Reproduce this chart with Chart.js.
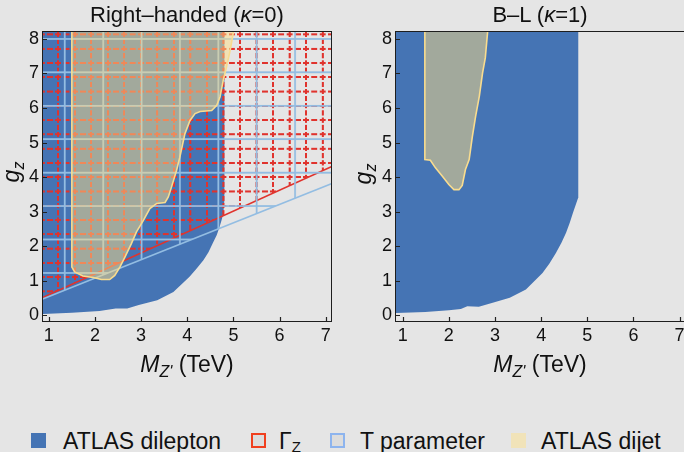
<!DOCTYPE html>
<html lang="en">
<head>
<meta charset="UTF-8">
<title>Z' limits: Right-handed vs B-L</title>
<script src="https://cdn.jsdelivr.net/npm/chart.js"></script>
<style>
  body {
    margin: 0;
    width: 684px;
    height: 452px;
    position: relative;
    overflow: hidden;
    background: #e5e5e5;
    color: #111;
    font-family: "Liberation Sans", Arial, sans-serif;
  }
  canvas { position: absolute; top: 0; }
  #rh { left: 0; }
  #bl { left: 342px; }

  .title, .xlab, .ylab, .lt {
    position: absolute;
    white-space: nowrap;
    line-height: 26px;
  }
  .title { top: 2px; width: 300px; text-align: center; font-size: 22px; }
  .xlab { top: 351px; width: 200px; text-align: center; font-size: 23px; }
  .xlab sub { font-size: 16px; vertical-align: -5px; font-style: italic; }
  .ylab { width: 40px; height: 26px; text-align: center; font-size: 23px; transform: rotate(-90deg); }
  .ylab sub { font-size: 16px; vertical-align: -5px; font-style: italic; }

  /* --- LEGEND --- */
  .lt { top: 428px; font-size: 23px; }
  .lt sub { font-size: 15px; vertical-align: -3px; line-height: 0; }
  .sw { position: absolute; top: 433px; width: 15px; height: 15px; box-sizing: border-box; }
</style>
</head>
<body>

<canvas id="rh" width="342" height="390"></canvas>
<canvas id="bl" width="360" height="390"></canvas>

<div class="title" style="left:37px">Right–handed (<i>κ</i>=0)</div>
<div class="title" style="left:390px">B–L (<i>κ</i>=1)</div>

<div class="xlab" style="left:87px"><i>M</i><sub>Z'</sub> (TeV)</div>
<div class="xlab" style="left:440px"><i>M</i><sub>Z'</sub> (TeV)</div>
<div class="ylab" style="left:-9px; top:159px"><i>g</i><sub>z</sub></div>
<div class="ylab" style="left:343px; top:161px"><i>g</i><sub>z</sub></div>

<div class="sw" style="left:31px; background:#4574b4"></div>
<div class="lt" style="left:63px">ATLAS dilepton</div>
<div class="sw" style="left:251px; border:2px solid #f0401f; background:#dcdcdc"></div>
<div class="lt" style="left:279px">Γ<sub>Z</sub></div>
<div class="sw" style="left:330px; border:2px solid #8db4ee; background:#dcdcdc"></div>
<div class="lt" style="left:360px">T parameter</div>
<div class="sw" style="left:511px; background:#f1e3b9"></div>
<div class="lt" style="left:541px">ATLAS dijet</div>

<script>
// ---- values (M in TeV, g_z) ----

// Right-handed panel
const rhDilepM = [0.85, 1.5, 2.1, 2.45, 2.7, 2.95, 3.35, 3.7, 4.05, 4.2, 4.35, 4.46, 4.55, 4.64, 4.7, 4.75, 4.78, 4.81, 4.81];
const rhDilepG = [0.04, 0.08, 0.13, 0.2, 0.2, 0.3, 0.44, 0.68, 1.12, 1.35, 1.6, 1.83, 2.08, 2.33, 2.56, 2.78, 2.95, 3.35, 8.2];

const rhDijetM = [1.5, 1.5, 1.56, 1.74, 1.96, 2.14, 2.32, 2.43, 2.54, 2.65, 2.79, 2.9, 3.05, 3.19, 3.34,
                  3.52, 3.59, 3.66, 3.77, 3.84, 3.95, 4.06, 4.17, 4.28, 4.53, 4.64, 4.71, 4.78, 4.85, 4.93, 5.0];
const rhDijetG = [8.2, 1.4, 1.26, 1.14, 1.1, 1.04, 1.04, 1.16, 1.4, 1.69, 2.08, 2.42, 2.75, 3.09, 3.24,
                  3.27, 3.43, 3.72, 4.2, 4.58, 5.26, 5.64, 5.84, 5.9, 5.93, 6.08, 6.32, 6.8, 7.18, 7.67, 8.2];

const widthM = [0.8, 7.2];     // Gamma_Z bound
const widthG = [0.48, 4.35];
const tparM = [0.8, 7.2];      // T parameter bound
const tparG = [0.44, 3.85];

// B-L panel
const blDilepM = [0.85, 1.49, 2.0, 2.26, 2.4, 2.65, 2.95, 3.32, 3.67, 4.03, 4.18, 4.32, 4.44, 4.54, 4.62, 4.69, 4.75, 4.8, 4.81, 4.81];
const blDilepG = [0.07, 0.1, 0.15, 0.19, 0.27, 0.25, 0.37, 0.51, 0.75, 1.23, 1.5, 1.81, 2.1, 2.39, 2.68, 2.97, 3.2, 3.4, 3.5, 8.2];

const blDijetM = [1.48, 1.48, 1.6, 1.71, 1.86, 2.0, 2.11, 2.22, 2.29, 2.36, 2.44, 2.51, 2.58, 2.66, 2.73, 2.79, 2.84];
const blDijetG = [8.2, 4.51, 4.49, 4.27, 4.03, 3.79, 3.64, 3.64, 3.76, 4.22, 4.51, 5.18, 5.76, 6.34, 7.01, 7.45, 8.2];

const yRange = [-0.16, 8.2];

// ---- styles ----
const BLUE = '#4574b4';
const RED = '#e0332d';
const LIGHTBLUE = '#93bde2';
const DIJET_FILL = 'rgba(255, 221, 132, 0.5)';
const DIJET_LINE = '#f8dc8f';
const FONT = { family: '"Liberation Sans", Arial, sans-serif', size: 18 };

// mesh hatching, anchored and spaced in data units
const gammaMesh = { x0: 5.143, dx: 0.358, y0: 4.0, dy: 0.413, color: RED, width: 2, dash: [0.36, 0.14] };
const tMesh = { x0: 1.347, dx: 0.8315, y0: 8.0, dy: 0.967, color: LIGHTBLUE, width: 1.8 };

const pts = (xs, ys) => xs.map((x, i) => ({ x, y: ys[i] }));

function meshPattern(chart, m) {
  const xs = chart.scales.x, ys = chart.scales.y;
  if (!chart.chartArea || !xs || !ys) return 'rgba(0,0,0,0)';
  const T = 64;
  const sx = Math.abs(xs.getPixelForValue(m.x0 + m.dx) - xs.getPixelForValue(m.x0));
  const sy = Math.abs(ys.getPixelForValue(m.y0 + m.dy) - ys.getPixelForValue(m.y0));
  const tile = document.createElement('canvas');
  tile.width = T; tile.height = T;
  const c = tile.getContext('2d');
  c.strokeStyle = m.color;
  const dashOn = m.dash ? m.dash[0] : 0;
  // vertical line
  c.lineWidth = m.width * T / sx;
  if (m.dash) { c.setLineDash(m.dash.map(d => d * T)); c.lineDashOffset = -(0.5 - dashOn / 2) * T; }
  c.beginPath(); c.moveTo(T / 2, -T); c.lineTo(T / 2, 2 * T); c.stroke();
  // horizontal line
  c.lineWidth = m.width * T / sy;
  c.beginPath(); c.moveTo(-T, T / 2); c.lineTo(2 * T, T / 2); c.stroke();
  const pat = chart.ctx.createPattern(tile, 'repeat');
  const px = xs.getPixelForValue(m.x0) - sx / 2;
  const py = ys.getPixelForValue(m.y0) - sy / 2;
  pat.setTransform(new DOMMatrix([sx / T, 0, 0, sy / T, px, py]));
  return pat;
}

// frame and inward ticks on top of the regions
const framePlugin = {
  id: 'frame',
  afterDatasetsDraw(chart) {
    const { ctx, chartArea: a, scales: { x, y } } = chart;
    ctx.save();
    ctx.strokeStyle = '#1e1e1e';
    ctx.lineWidth = 1;
    ctx.strokeRect(a.left - 0.5, a.top - 0.5, a.right - a.left + 1, a.bottom - a.top + 1);
    ctx.strokeStyle = '#222';
    ctx.lineWidth = 1.2;
    ctx.beginPath();
    x.ticks.forEach(t => {
      const p = Math.round(x.getPixelForValue(t.value)) + 0.5;
      ctx.moveTo(p, a.bottom); ctx.lineTo(p, a.bottom - 4);
    });
    y.ticks.forEach(t => {
      const p = Math.round(y.getPixelForValue(t.value)) + 0.5;
      ctx.moveTo(a.left, p); ctx.lineTo(a.left + 4, p);
    });
    ctx.stroke();
    ctx.restore();
  }
};

function makePanel(id, xRange, yWidth, padRight, datasets) {
  return new Chart(document.getElementById(id), {
    type: 'line',
    data: { datasets },
    options: {
      responsive: false,
      animation: false,
      events: [],
      layout: { padding: { top: 32, right: padRight, left: 0, bottom: 0 } },
      elements: { point: { radius: 0 }, line: { tension: 0 } },
      plugins: { legend: { display: false }, tooltip: { enabled: false } },
      scales: {
        x: {
          type: 'linear', min: xRange[0], max: xRange[1],
          afterFit: s => { s.height = 390 - 321; },
          grid: { display: false, drawTicks: false }, border: { display: false },
          ticks: { stepSize: 1, includeBounds: false, autoSkip: false, maxRotation: 0, padding: 4, font: FONT, color: '#111' }
        },
        y: {
          type: 'linear', min: yRange[0], max: yRange[1],
          afterFit: s => { s.width = yWidth; },
          grid: { display: false, drawTicks: false }, border: { display: false },
          ticks: { stepSize: 1, includeBounds: false, autoSkip: false, padding: 4, font: FONT, color: '#111' }
        }
      }
    },
    plugins: [framePlugin]
  });
}

const dilepSet = (xs, ys) => ({
  data: pts(xs, ys), fill: 'end', backgroundColor: BLUE, borderWidth: 0, order: 4, clip: 1
});
const dijetSet = (xs, ys) => ({
  data: pts(xs, ys), fill: 'end', backgroundColor: DIJET_FILL, borderColor: DIJET_LINE, borderWidth: 1.6, order: 1
});

makePanel('rh', [0.875, 7.115], 43, 11, [
  dilepSet(rhDilepM, rhDilepG),
  { data: pts(widthM, widthG), fill: 'end', backgroundColor: c => meshPattern(c.chart, gammaMesh),
    borderColor: RED, borderWidth: 1.6, order: 3 },
  { data: pts(tparM, tparG), fill: 'end', backgroundColor: c => meshPattern(c.chart, tMesh),
    borderColor: LIGHTBLUE, borderWidth: 1.6, order: 2 },
  dijetSet(rhDijetM, rhDijetG)
]);

makePanel('bl', [0.855, 7.117], 54, 17, [
  dilepSet(blDilepM, blDilepG),
  dijetSet(blDijetM, blDijetG)
]);
</script>
</body>
</html>
